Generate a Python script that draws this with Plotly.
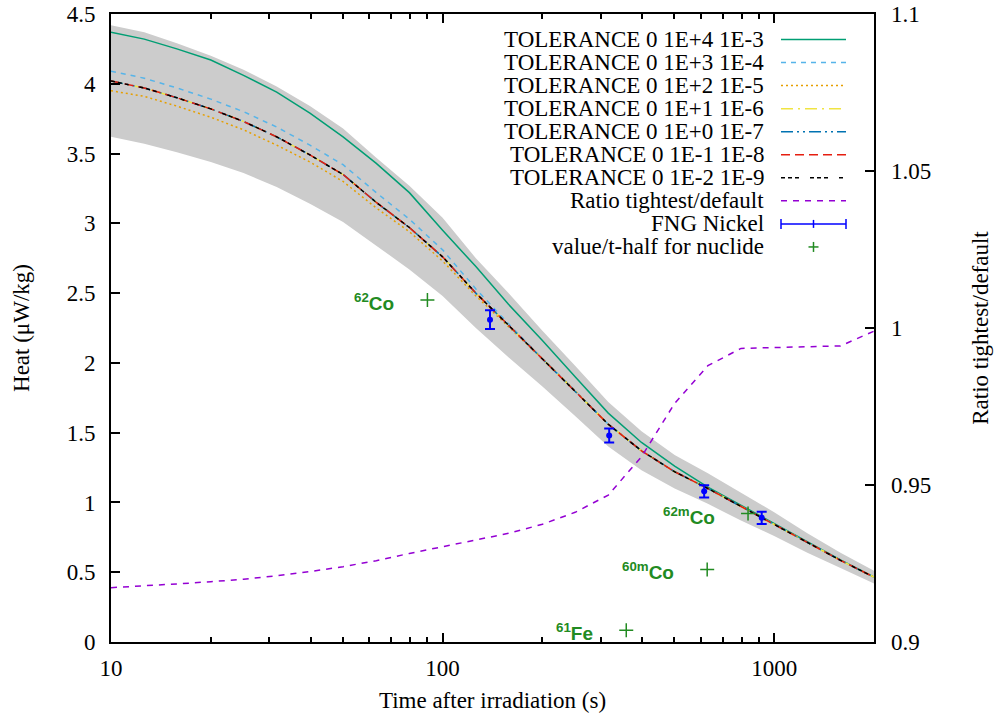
import math
import plotly.graph_objects as go

# ---------------- data ----------------
time_s = [10, 12.6, 15.8, 20, 25.1, 31.6, 39.8, 50.1, 63.1, 79.4, 100, 126, 158,
          200, 251, 316, 398, 501, 631, 794, 1000, 1259, 1585, 2000]

heat_1e4 = [4.37, 4.32, 4.25, 4.17, 4.06, 3.94, 3.79, 3.62, 3.43, 3.22, 2.95, 2.69, 2.42,
            2.16, 1.90, 1.64, 1.43, 1.26, 1.11, 0.98, 0.85, 0.715, 0.588, 0.466]
heat_1e3 = [4.09, 4.04, 3.97, 3.89, 3.80, 3.69, 3.56, 3.42, 3.22, 3.03, 2.81, 2.53, 2.28,
            2.03, 1.80, 1.56, 1.37, 1.22, 1.10, 0.97, 0.845, 0.71, 0.585, 0.465]
heat_1e2 = [3.95, 3.91, 3.84, 3.76, 3.67, 3.56, 3.44, 3.30, 3.11, 2.94, 2.73, 2.48, 2.26,
            2.03, 1.80, 1.56, 1.37, 1.22, 1.10, 0.97, 0.845, 0.71, 0.585, 0.465]
heat_1e1 = [4.02, 3.97, 3.90, 3.82, 3.73, 3.62, 3.49, 3.35, 3.15, 2.97, 2.76, 2.50, 2.27,
            2.03, 1.80, 1.56, 1.37, 1.22, 1.10, 0.97, 0.845, 0.71, 0.585, 0.465]
heat_1e0 = [4.02, 3.97, 3.90, 3.82, 3.73, 3.62, 3.49, 3.35, 3.15, 2.97, 2.76, 2.50, 2.27,
            2.03, 1.80, 1.56, 1.37, 1.22, 1.10, 0.97, 0.845, 0.71, 0.585, 0.465]
heat_1em1 = [4.02, 3.97, 3.90, 3.82, 3.73, 3.62, 3.49, 3.35, 3.15, 2.97, 2.76, 2.50, 2.27,
             2.03, 1.80, 1.56, 1.37, 1.22, 1.10, 0.97, 0.845, 0.71, 0.585, 0.465]
heat_1em2 = [4.02, 3.97, 3.90, 3.82, 3.73, 3.62, 3.49, 3.35, 3.15, 2.97, 2.76, 2.50, 2.27,
             2.03, 1.80, 1.56, 1.37, 1.22, 1.10, 0.97, 0.845, 0.71, 0.585, 0.465]

band_hi = [4.42, 4.37, 4.29, 4.20, 4.10, 3.98, 3.84, 3.68, 3.47, 3.27, 3.04, 2.75, 2.50,
           2.23, 1.98, 1.72, 1.51, 1.34, 1.21, 1.07, 0.93, 0.78, 0.64, 0.51]
band_lo = [3.62, 3.57, 3.51, 3.44, 3.36, 3.26, 3.14, 3.01, 2.84, 2.67, 2.48, 2.25, 2.04,
           1.83, 1.62, 1.40, 1.23, 1.10, 0.99, 0.87, 0.76, 0.64, 0.53, 0.42]

ratio = [0.9173, 0.9178, 0.9185, 0.9192, 0.9200, 0.9211, 0.9224, 0.9240, 0.9259, 0.9282,
         0.9303, 0.9324, 0.9346, 0.9375, 0.9413, 0.9468, 0.9590, 0.9760, 0.9880, 0.9935,
         0.9938, 0.9940, 0.9943, 0.9990]

fng_t = [139, 318, 615, 917]
fng_heat = [2.31, 1.48, 1.08, 0.89]
fng_err = [0.068, 0.05, 0.044, 0.044]

nuc_names = ["62", "61", "60m", "62m"]
nuc_elem = ["Co", "Fe", "Co", "Co"]
nuc_thalf = [90, 358, 628, 834]
nuc_value = [2.45, 0.085, 0.52, 0.92]

series_names = ["TOLERANCE 0 1E+4 1E-3", "TOLERANCE 0 1E+3 1E-4", "TOLERANCE 0 1E+2 1E-5",
                "TOLERANCE 0 1E+1 1E-6", "TOLERANCE 0 1E+0 1E-7", "TOLERANCE 0 1E-1 1E-8",
                "TOLERANCE 0 1E-2 1E-9"]
series_vals = [heat_1e4, heat_1e3, heat_1e2, heat_1e1, heat_1e0, heat_1em1, heat_1em2]
series_colors = ["#009e73", "#56b4e9", "#e69f00", "#f0e442", "#0072b2", "#e51e10", "#000000"]
series_dash = ["solid", "5px,5px", "2px,3px", "12px,5px,2px,5px",
               "12px,4px,2px,4px,2px,4px", "9px,5px", "4px,3px,4px,3px,4px,11px"]

# ---------------- layout constants ----------------
W, H = 995, 713
ML, MR, MT, MB = 111, 121, 14, 71
PW, PH = W - ML - MR, H - MT - MB
SERIF = "Liberation Serif"
FS = 23
GREEN = "#228B22"
PURPLE = "#9400d3"


def px(x, y):
    return (x - ML) / PW, 1 - (y - MT) / PH


fig = go.Figure()

# uncertainty band
fig.add_trace(go.Scatter(x=time_s, y=band_lo, mode="lines", line=dict(width=0),
                         hoverinfo="skip", showlegend=False))
fig.add_trace(go.Scatter(x=time_s, y=band_hi, mode="lines", line=dict(width=0),
                         fill="tonexty", fillcolor="rgb(204,204,204)",
                         hoverinfo="skip", showlegend=False))

for name, vals, col, dash in zip(series_names, series_vals, series_colors, series_dash):
    fig.add_trace(go.Scatter(x=time_s, y=vals, mode="lines", name=name,
                             line=dict(color=col, width=1.5, dash=dash), showlegend=False))

fig.add_trace(go.Scatter(x=time_s, y=ratio, mode="lines", name="Ratio tightest/default",
                         yaxis="y2", line=dict(color=PURPLE, width=1.5, dash="6px,6px"),
                         showlegend=False))

fig.add_trace(go.Scatter(x=fng_t, y=fng_heat, mode="markers", name="FNG Nickel",
                         marker=dict(color="blue", size=6, symbol="circle"),
                         error_y=dict(type="data", array=fng_err, color="blue",
                                      thickness=2, width=5),
                         showlegend=False))

fig.add_trace(go.Scatter(x=nuc_thalf, y=nuc_value, mode="markers",
                         name="value/t-half for nuclide",
                         marker=dict(symbol="cross-thin", size=10,
                                     line=dict(color=GREEN, width=1.5)),
                         showlegend=False))

annotations = []
for iso, el, t, v in zip(nuc_names, nuc_elem, nuc_thalf, nuc_value):
    annotations.append(dict(x=math.log10(t), y=v, xref="x", yref="y",
                            text=f"<b><sup>{iso}</sup>{el}</b>", showarrow=False,
                            xanchor="right", yanchor="middle", xshift=-31, yshift=-2,
                            font=dict(family="Liberation Sans", size=19, color=GREEN)))

# manual gnuplot-style key (text right-aligned, sample to the right)
shapes = []
key_y0, key_dy = 39.5, 23.05
key_text_x, key_s0, key_s1 = 766, 781, 846
key_labels = series_names + ["Ratio tightest/default", "FNG Nickel", "value/t-half for nuclide"]
key_colors = series_colors + [PURPLE]
key_dashes = series_dash + ["6px,6px"]
for i, lab in enumerate(key_labels):
    yy = key_y0 + i * key_dy
    xp, yp = px(key_text_x, yy)
    annotations.append(dict(x=xp, y=yp, xref="paper", yref="paper", text=lab,
                            showarrow=False, xanchor="right", yanchor="middle",
                            font=dict(family=SERIF, size=FS, color="black")))
    if i < len(key_colors):
        a = px(key_s0, yy); b = px(key_s1, yy)
        shapes.append(dict(type="line", xref="paper", yref="paper", x0=a[0], y0=a[1],
                           x1=b[0], y1=b[1],
                           line=dict(color=key_colors[i], width=1.5, dash=key_dashes[i])))
    elif lab == "FNG Nickel":
        a = px(key_s0, yy); b = px(key_s1, yy)
        shapes.append(dict(type="line", xref="paper", yref="paper", x0=a[0], y0=a[1],
                           x1=b[0], y1=b[1], line=dict(color="blue", width=1.5)))
        for xx, hh in ((key_s0, 5), (key_s1, 5), ((key_s0 + key_s1) / 2, 4)):
            c = px(xx, yy - hh); d = px(xx, yy + hh)
            shapes.append(dict(type="line", xref="paper", yref="paper", x0=c[0], y0=c[1],
                               x1=d[0], y1=d[1], line=dict(color="blue", width=1.5)))
    else:
        xc = (key_s0 + key_s1) / 2
        c = px(xc - 5, yy); d = px(xc + 5, yy)
        shapes.append(dict(type="line", xref="paper", yref="paper", x0=c[0], y0=c[1],
                           x1=d[0], y1=d[1], line=dict(color=GREEN, width=1.5)))
        c = px(xc, yy - 5); d = px(xc, yy + 5)
        shapes.append(dict(type="line", xref="paper", yref="paper", x0=c[0], y0=c[1],
                           x1=d[0], y1=d[1], line=dict(color=GREEN, width=1.5)))

tickfont = dict(family=SERIF, size=FS, color="black")
minor_vals = [20, 30, 40, 50, 60, 70, 80, 90, 200, 300, 400, 500, 600, 700, 800, 900, 2000]

fig.update_layout(
    width=W, height=H,
    margin=dict(l=ML, r=MR, t=MT, b=MB, pad=0, autoexpand=False),
    paper_bgcolor="white", plot_bgcolor="white",
    showlegend=False,
    font=dict(family=SERIF, size=FS, color="black"),
    xaxis=dict(type="log", range=[1, math.log10(2000)], automargin=False,
               tickvals=[10, 100, 1000], ticktext=["10", "100", "1000"],
               ticks="inside", ticklen=9, tickwidth=1.5, tickcolor="black",
               minor=dict(ticks="inside", ticklen=5, tickwidth=1.5, tickcolor="black",
                          tickvals=minor_vals, showgrid=False),
               showline=True, linecolor="black", linewidth=2, mirror="ticks",
               showgrid=False, zeroline=False, tickfont=tickfont, ticklabelstandoff=4,
               title=dict(text="Time after irradiation (s)", font=tickfont, standoff=26)),
    yaxis=dict(range=[0, 4.5], automargin=False,
               tickvals=[0, 0.5, 1, 1.5, 2, 2.5, 3, 3.5, 4, 4.5],
               ticktext=["0", "0.5", "1", "1.5", "2", "2.5", "3", "3.5", "4", "4.5"],
               ticks="inside", ticklen=9, tickwidth=1.5, tickcolor="black",
               showline=True, linecolor="black", linewidth=2, mirror=True,
               showgrid=False, zeroline=False, tickfont=tickfont, ticklabelstandoff=9,
               title=dict(text="Heat (μW/kg)", font=tickfont, standoff=31)),
    yaxis2=dict(overlaying="y", side="right", range=[0.9, 1.1], automargin=False,
                tickvals=[0.9, 0.95, 1.0, 1.05, 1.1],
                ticktext=["0.9", "0.95", "1", "1.05", "1.1"],
                ticks="inside", ticklen=9, tickwidth=1.5, tickcolor="black",
                showline=False, showgrid=False, zeroline=False, tickfont=tickfont,
                ticklabelstandoff=16,
                title=dict(text="Ratio tightest/default", font=tickfont, standoff=41)),
    annotations=annotations,
    shapes=shapes,
)

fig.write_html("out.html")
